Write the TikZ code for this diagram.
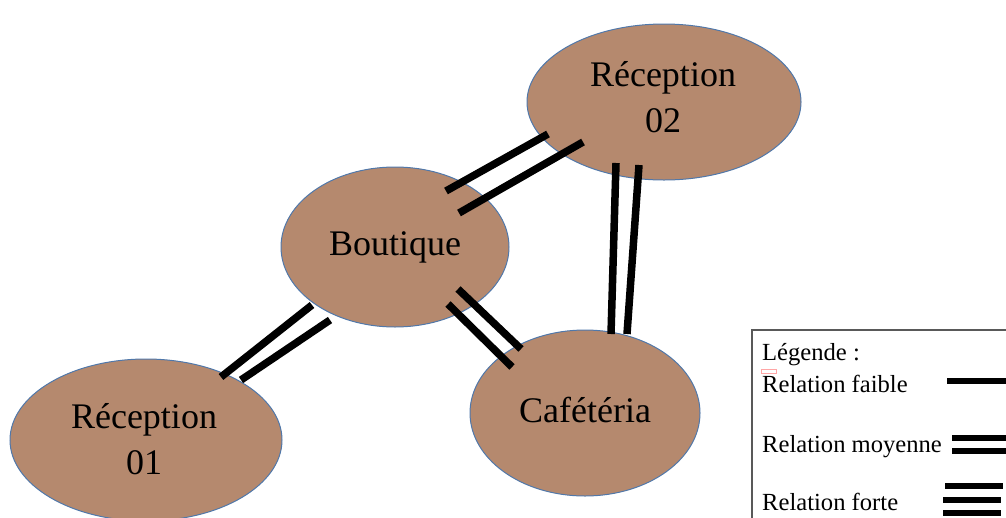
\documentclass[tikz,border=0pt]{standalone}
\usepackage{fontspec}
\setmainfont{Liberation Serif}
\usetikzlibrary{shapes.geometric}
\definecolor{roomfill}{RGB}{181,137,110}
\definecolor{roomedge}{RGB}{80,120,170}
\tikzset{
  room/.style={ellipse, fill=roomfill, draw=roomedge, line width=1pt, inner sep=0pt},
  roomtext/.style={inner sep=0pt, align=center, font=\fontsize{36}{46}\selectfont},
  link/.style={line width=7.5pt, black},
  keyline/.style={line width=6pt, black},
  legtext/.style={anchor=base west, inner sep=0pt, font=\fontsize{24.6}{28}\selectfont}
}
\begin{document}
\begin{tikzpicture}[x=1pt,y=-1pt]
\useasboundingbox (0,0) rectangle (1006,517);
\node[room, minimum width=274pt, minimum height=156pt] (r2) at (664,102) {};
\node[room, minimum width=228pt, minimum height=160pt] (bq) at (395,247) {};
\node[room, minimum width=272pt, minimum height=162pt] (r1) at (146,440) {};
\node[room, minimum width=230pt, minimum height=166pt] (cf) at (585,413) {};
\node[roomtext] (r2t) at (663,97) {Réception\\02};
\node[roomtext] (bqt) at (395,247) {Boutique};
\node[roomtext] (r1t) at (144,439) {Réception\\01};
\node[roomtext] (cft) at (585,410) {Cafétéria};
% connectors Boutique - Reception 02
\coordinate (a1) at (446,191); \coordinate (a2) at (548,134);
\coordinate (b1) at (459,213); \coordinate (b2) at (583,142);
\draw[link] (a1) -- (a2);
\draw[link] (b1) -- (b2);
% Reception 02 - Cafeteria
\coordinate (c1) at (611,334); \coordinate (c2) at (616,163);
\coordinate (d1) at (627,334); \coordinate (d2) at (639,165);
\draw[link] (c1) -- (c2);
\draw[link] (d1) -- (d2);
% Boutique - Cafeteria
\coordinate (e1) at (448,304); \coordinate (e2) at (512,367);
\coordinate (f1) at (458,289); \coordinate (f2) at (521,349);
\draw[link] (e1) -- (e2);
\draw[link] (f1) -- (f2);
% Boutique - Reception 01
\coordinate (g1) at (221,377); \coordinate (g2) at (312,305);
\coordinate (h1) at (241,380); \coordinate (h2) at (330,320);
\draw[link] (g1) -- (g2);
\draw[link] (h1) -- (h2);
% legend
\draw[draw=black!65, line width=1.5pt] (1010,330) -- (752,330) -- (752,520);
\node[legtext] (lg) at (762,360) {Légende :};
\draw[draw=red!35, line width=0.6pt] (761,369) rectangle (776,373);
\node[legtext] (lf) at (762,392) {Relation faible};
\node[legtext] (lm) at (762,452) {Relation moyenne};
\node[legtext] (lt) at (762,510) {Relation forte};
\draw[keyline] (947,381) -- (1006,381);
\draw[keyline] (952,438) -- (1006,438);
\draw[keyline] (952,451) -- (1006,451);
\draw[keyline] (945,486) -- (1003,486);
\draw[keyline] (943,500) -- (1001,500);
\draw[keyline] (943,513) -- (1001,513);
\end{tikzpicture}
\end{document}
